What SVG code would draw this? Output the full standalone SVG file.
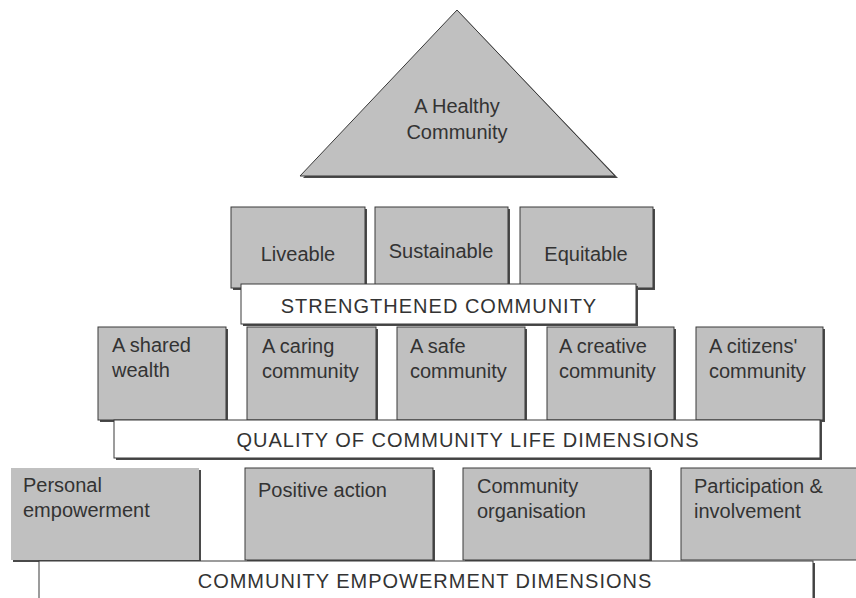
<svg xmlns="http://www.w3.org/2000/svg" width="856" height="598" viewBox="0 0 856 598">
<style>
.box{fill:#c0c0c0;stroke:#3a3a3a;stroke-width:1}
.bar{fill:#ffffff;stroke:#3a3a3a;stroke-width:1}
.sh{fill:#4a4a4a}
text{font-family:"Liberation Sans",Arial,sans-serif;fill:#333333;font-size:20px}
.c{text-anchor:middle}
.cap{letter-spacing:1px}
</style>
<rect width="856" height="598" fill="#ffffff"/>
<g id="top">
  <polygon points="459,12 303,178 618,178" class="sh"/>
  <polygon points="457,10 300,176 615,176" class="box"/>
  <text x="457" y="113" class="c" font-size="21">A Healthy</text>
  <text x="457" y="139" class="c" font-size="21">Community</text>
</g>
<g id="tier2">
  <g id="liveable">
    <rect x="233" y="209" width="134" height="81" class="sh"/>
    <rect x="231" y="207" width="134" height="81" class="box"/>
    <text x="298" y="261" class="c" font-size="21">Liveable</text>
  </g>
  <g id="sustainable">
    <rect x="377" y="209" width="133" height="81" class="sh"/>
    <rect x="375" y="207" width="133" height="81" class="box"/>
    <text x="441" y="258" class="c" font-size="20">Sustainable</text>
  </g>
  <g id="equitable">
    <rect x="522" y="209" width="133" height="81" class="sh"/>
    <rect x="520" y="207" width="133" height="81" class="box"/>
    <text x="586" y="261" class="c" font-size="21">Equitable</text>
  </g>
  <g id="strengthened">
    <rect x="243" y="286" width="395" height="40" class="sh"/>
    <rect x="241" y="284" width="395" height="40" class="bar"/>
    <text x="439" y="313" class="c cap" font-size="21">STRENGTHENED COMMUNITY</text>
  </g>
</g>
<g id="tier3">
  <g id="shared">
    <rect x="100" y="329" width="128" height="93" class="sh"/>
    <rect x="98" y="327" width="128" height="93" class="box"/>
    <text x="112" y="352">A shared</text>
    <text x="112" y="377">wealth</text>
  </g>
  <g id="caring">
    <rect x="249" y="329" width="129" height="93" class="sh"/>
    <rect x="247" y="327" width="129" height="93" class="box"/>
    <text x="262" y="353">A caring</text>
    <text x="262" y="378">community</text>
  </g>
  <g id="safe">
    <rect x="399" y="329" width="128" height="93" class="sh"/>
    <rect x="397" y="327" width="128" height="93" class="box"/>
    <text x="410" y="353">A safe</text>
    <text x="410" y="378">community</text>
  </g>
  <g id="creative">
    <rect x="549" y="329" width="127" height="93" class="sh"/>
    <rect x="547" y="327" width="127" height="93" class="box"/>
    <text x="559" y="353">A creative</text>
    <text x="559" y="378">community</text>
  </g>
  <g id="citizens">
    <rect x="698" y="329" width="127" height="93" class="sh"/>
    <rect x="696" y="327" width="127" height="93" class="box"/>
    <text x="709" y="353">A citizens'</text>
    <text x="709" y="378">community</text>
  </g>
  <g id="quality">
    <rect x="116" y="422" width="706" height="38" class="sh"/>
    <rect x="114" y="420" width="706" height="38" class="bar"/>
    <text x="468" y="447" class="c cap" font-size="21">QUALITY OF COMMUNITY LIFE DIMENSIONS</text>
  </g>
</g>
<g id="tier4">
  <g id="personal">
    <rect x="13" y="470" width="188" height="92" class="sh"/>
    <rect x="11" y="468" width="188" height="92" fill="#c0c0c0"/>
    <text x="23" y="492">Personal</text>
    <text x="23" y="517">empowerment</text>
  </g>
  <g id="positive">
    <rect x="247" y="470" width="188" height="92" class="sh"/>
    <rect x="245" y="468" width="188" height="92" class="box"/>
    <text x="258" y="497" font-size="21">Positive action</text>
  </g>
  <g id="organisation">
    <rect x="465" y="470" width="187" height="92" class="sh"/>
    <rect x="463" y="468" width="187" height="92" class="box"/>
    <text x="477" y="493">Community</text>
    <text x="477" y="518">organisation</text>
  </g>
  <g id="participation">
    <rect x="681" y="468" width="190" height="92" class="box"/>
    <text x="694" y="493">Participation &amp;</text>
    <text x="694" y="518">involvement</text>
  </g>
  <g id="empowerment">
    <rect x="41" y="563" width="774" height="40" class="sh"/>
    <rect x="39" y="561" width="774" height="42" class="bar"/>
    <text x="425" y="588" class="c cap" font-size="21">COMMUNITY EMPOWERMENT DIMENSIONS</text>
  </g>
</g>
<g id="connectors"/>
</svg>
